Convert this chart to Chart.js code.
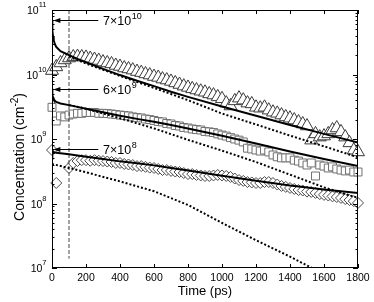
<!DOCTYPE html>
<html>
<head>
<meta charset="utf-8">
<script src="https://cdn.jsdelivr.net/npm/chart.js@4.4.1/dist/chart.umd.min.js"></script>
<style>
  html, body { margin: 0; padding: 0; background: #fff; }
  #wrap { width: 374px; height: 302px; }
</style>
</head>
<body>
<div id="wrap"><canvas id="concChart" width="374" height="302"></canvas></div>
<script>
// ---- data (time in ps, concentration in cm^-2) ----
const markerTimes = [0, 25, 50, 75, 100, 125, 150, 175, 200, 225, 250, 275, 300, 325, 350, 375,
  400, 425, 450, 475, 500, 525, 550, 575, 600, 625, 650, 675, 700, 725, 750, 775, 800, 825, 850,
  875, 900, 925, 950, 975, 1000, 1025, 1050, 1075, 1100, 1125, 1150, 1175, 1200, 1225, 1250, 1275,
  1300, 1325, 1350, 1375, 1400, 1425, 1450, 1475, 1500, 1525, 1550, 1575, 1600, 1625, 1650, 1675,
  1700, 1725, 1750, 1775, 1800];

const triangleData = [1.15e10, 1.31e10, 1.51e10, 1.68e10, 1.80e10, 1.87e10, 1.90e10, 1.87e10, 1.84e10,
  1.77e10, 1.71e10, 1.65e10, 1.56e10, 1.51e10, 1.46e10, 1.38e10, 1.33e10, 1.26e10, 1.22e10, 1.17e10,
  1.11e10, 1.07e10, 1.02e10, 9.8e9, 9.3e9, 9.0e9, 8.5e9, 8.2e9, 7.8e9, 7.4e9, 7.0e9, 6.6e9, 6.3e9,
  6.0e9, 5.75e9, 5.5e9, 5.3e9, 5.0e9, 4.8e9, 4.5e9, 4.2e9, 3.6e9, 3.25e9, 3.9e9, 4.3e9, 4.0e9, 3.6e9,
  3.5e9, 3.1e9, 3.0e9, 3.1e9, 2.8e9, 2.6e9, 2.5e9, 2.35e9, 2.2e9, 2.1e9, 1.97e9, 1.84e9, 1.71e9,
  1.59e9, 9.6e8, 1.2e9, 1.07e9, 1.11e9, 1.2e9, 1.38e9, 1.48e9, 1.29e9, 1.07e9, 8.7e8, 6.7e8, 6.3e8];

const squareData = [3.1e9, 1.9e9, 2.28e9, 2.2e9, 2.35e9, 2.44e9, 2.5e9, 2.5e9, 2.58e9, 2.58e9, 2.58e9,
  2.5e9, 2.5e9, 2.48e9, 2.44e9, 2.4e9, 2.35e9, 2.31e9, 2.28e9, 2.2e9, 2.15e9, 2.12e9, 2.04e9, 2.0e9,
  1.94e9, 1.87e9, 1.84e9, 1.74e9, 1.71e9, 1.62e9, 1.59e9, 1.51e9, 1.48e9, 1.43e9, 1.40e9, 1.38e9,
  1.31e9, 1.29e9, 1.26e9, 1.20e9, 1.15e9, 1.11e9, 1.05e9, 1.0e9, 9.6e8, 9.0e8, 7.2e8, 7.0e8, 6.75e8,
  6.5e8, 6.75e8, 6.3e8, 5.65e8, 5.3e8, 5.1e8, 5.1e8, 5.1e8, 4.7e8, 4.55e8, 4.25e8, 3.95e8, 4.25e8,
  2.67e8, 3.95e8, 3.8e8, 3.55e8, 3.7e8, 3.43e8, 3.3e8, 3.2e8, 3.3e8, 3.08e8, 3.08e8];

const diamondData = [6.75e8, 2.08e8, null, null, 3.55e8, 4.25e8, 4.55e8, 4.7e8, 4.7e8, 4.6e8, 4.7e8,
  4.6e8, 4.55e8, 4.48e8, 4.4e8, 4.25e8, 4.25e8, 4.1e8, 4.03e8, 3.95e8, 3.8e8, 3.8e8, 3.7e8, 3.6e8,
  3.55e8, 3.43e8, 3.3e8, 3.3e8, 3.2e8, 3.13e8, 3.08e8, 2.97e8, 2.86e8, 2.86e8, 2.77e8, 2.72e8, 2.67e8,
  2.67e8, 2.72e8, 2.77e8, 2.72e8, 2.67e8, 2.58e8, 2.44e8, 2.31e8, 2.24e8, 2.15e8, 2.12e8, 2.08e8,
  2.08e8, 2.15e8, 2.15e8, 2.08e8, 1.97e8, 1.87e8, 1.81e8, 1.74e8, 1.68e8, 1.62e8, 1.59e8, 1.53e8,
  1.51e8, 1.46e8, 1.40e8, 1.36e8, 1.33e8, 1.29e8, 1.26e8, 1.22e8, 1.17e8, 1.13e8, 1.09e8, 1.02e8];

// solid fit curves
const fitTimes = [0, 1, 3, 6, 10, 17, 25, 50, 100, 150, 200, 300, 400, 500, 600, 700, 800, 1000,
  1200, 1400, 1600, 1800];
const fitHigh = [7e10, 6e10, 4.8e10, 3.9e10, 3.4e10, 2.95e10, 2.67e10, 2.3e10, 2.0e10, 1.75e10, 1.55e10,
  1.22e10, 9.8e9, 8.0e9, 6.6e9, 5.4e9, 4.5e9, 3.2e9, 2.3e9, 1.65e9, 1.2e9, 8.8e8];
const fitMid = [6e9, 5.3e9, 4.8e9, 4.4e9, 4.15e9, 3.9e9, 3.75e9, 3.55e9, 3.35e9, 3.15e9, 2.95e9, 2.6e9,
  2.3e9, 2.05e9, 1.85e9, 1.65e9, 1.45e9, 1.12e9, 8.5e8, 6.4e8, 4.9e8, 3.8e8];
const fitLow = [7e8, 6.8e8, 6.6e8, 6.45e8, 6.3e8, 6.2e8, 6.1e8, 6.0e8, 5.8e8, 5.55e8, 5.3e8, 4.9e8,
  4.5e8, 4.2e8, 3.9e8, 3.55e8, 3.25e8, 2.7e8, 2.25e8, 1.9e8, 1.65e8, 1.45e8];

// dotted curves
const dotTimes = [100, 200, 400, 600, 800, 1000, 1200, 1400, 1600, 1800];
const dotHigh = [1.9e10, 1.48e10, 9.5e9, 6.2e9, 4.0e9, 2.48e9, 1.68e9, 1.13e9, 7.7e8, 5.2e8];
const dotMid = [3.35e9, 2.95e9, 2.1e9, 1.46e9, 9.7e8, 6.6e8, 4.4e8, 2.8e8, 1.78e8, 1.22e8];
const dotLowTimes = [0, 100, 200, 400, 600, 800, 1000, 1200, 1400, 1600, 1800];
const dotLow = [4.1e8, 3.55e8, 3.05e8, 2.2e8, 1.55e8, 9.5e7, 5.0e7, 2.7e7, 1.5e7, 8e6, 4e6];

// vertical marker at 100 ps
const cutTime = 100;
const cutRange = [1e11, 1.4e7];

// axes
const xTicks = [0, 200, 400, 600, 800, 1000, 1200, 1400, 1600, 1800];
const yTickExps = [7, 8, 9, 10, 11];

// initial-value annotations
const noteValues = [7e10, 6e9, 7e8];
const noteMantissa = ['7', '6', '7'];
const noteExps = ['10', '9', '8'];
const noteFromTime = 272;
const noteToTime = 8;
const noteTextTime = 300;

const FONT = '"Liberation Sans", Arial, Helvetica, sans-serif';

function pts(xs, ys) {
  return xs.map((t, i) => ({ x: t, y: ys[i] }));
}

// frame, inward ticks, superscript labels and arrows
const decorPlugin = {
  id: 'decor',
  afterDatasetsDraw(chart) {
    const { ctx, chartArea: a, scales: { x, y } } = chart;
    ctx.save();
    ctx.strokeStyle = '#000';
    ctx.lineWidth = 1;

    const seg = (x1, y1, x2, y2) => {
      ctx.beginPath(); ctx.moveTo(x1, y1); ctx.lineTo(x2, y2); ctx.stroke();
    };

    ctx.strokeRect(a.left + 0.5, a.top + 0.5, a.right - a.left - 1, a.bottom - a.top - 1);

    xTicks.forEach(v => {
      const px = Math.round(x.getPixelForValue(v)) + 0.5;
      seg(px, a.bottom, px, a.bottom - 4);
      seg(px, a.top, px, a.top + 4);
    });

    yTickExps.forEach((e, i) => {
      const py = Math.round(y.getPixelForValue(Math.pow(10, e))) + 0.5;
      seg(a.left, py, a.left + 5, py);
      seg(a.right, py, a.right - 5, py);
      if (i < yTickExps.length - 1) {
        for (let m = 2; m <= 9; m++) {
          const pm = Math.round(y.getPixelForValue(m * Math.pow(10, e))) + 0.5;
          seg(a.left, pm, a.left + 2.5, pm);
          seg(a.right, pm, a.right - 2.5, pm);
        }
      }
    });

    // y tick labels 10^n
    ctx.fillStyle = '#000';
    ctx.textBaseline = 'middle';
    ctx.textAlign = 'right';
    const labelRight = 46.5;
    yTickExps.forEach(e => {
      const py = y.getPixelForValue(Math.pow(10, e));
      ctx.font = '7.5px ' + FONT;
      const ew = ctx.measureText(String(e)).width;
      ctx.fillText(String(e), labelRight, py - 5);
      ctx.font = '10.5px ' + FONT;
      ctx.fillText('10', labelRight - ew, py + 1.5);
    });

    // y axis title with superscript
    ctx.save();
    ctx.translate(24, 157);
    ctx.rotate(-Math.PI / 2);
    ctx.textAlign = 'left';
    ctx.textBaseline = 'alphabetic';
    const mainFont = '14px ' + FONT, supFont = '10px ' + FONT;
    ctx.font = mainFont;
    const w1 = ctx.measureText('Concentration (cm').width;
    const w3 = ctx.measureText(')').width;
    ctx.font = supFont;
    const w2 = ctx.measureText('-2').width;
    let cx = -(w1 + w2 + w3) / 2;
    ctx.font = mainFont;
    ctx.fillText('Concentration (cm', cx, 0);
    cx += w1;
    ctx.font = supFont;
    ctx.fillText('-2', cx, -6);
    cx += w2;
    ctx.font = mainFont;
    ctx.fillText(')', cx, 0);
    ctx.restore();

    // arrows pointing at the initial values
    const x0 = x.getPixelForValue(noteFromTime);
    const x1 = x.getPixelForValue(noteToTime);
    const xt = x.getPixelForValue(noteTextTime);
    noteValues.forEach((v, i) => {
      const py = Math.round(y.getPixelForValue(v)) + 0.5;
      seg(x0, py, x1 + 5, py);
      ctx.beginPath();
      ctx.moveTo(x1, py);
      ctx.lineTo(x1 + 7, py - 2.5);
      ctx.lineTo(x1 + 7, py + 2.5);
      ctx.closePath();
      ctx.fill();
      ctx.textAlign = 'left';
      ctx.textBaseline = 'middle';
      ctx.font = '12.5px ' + FONT;
      const base = noteMantissa[i] + '\u00d710';
      ctx.fillText(base, xt, py + 1.5);
      const bw = ctx.measureText(base).width;
      ctx.font = '9px ' + FONT;
      ctx.fillText(noteExps[i], xt + bw + 0.5, py - 4);
    });

    ctx.restore();
  }
};

const lineStyle = { showLine: true, pointRadius: 0, fill: false, tension: 0, borderColor: '#000' };
const markerStyle = { showLine: false, pointBackgroundColor: '#fff', pointBorderWidth: 1, clip: false };

new Chart(document.getElementById('concChart'), {
  type: 'scatter',
  data: {
    datasets: [
      { ...lineStyle, data: pts(fitTimes, fitHigh), borderWidth: 2 },
      { ...lineStyle, data: pts(fitTimes, fitMid), borderWidth: 2 },
      { ...lineStyle, data: pts(fitTimes, fitLow), borderWidth: 2 },
      { ...lineStyle, data: pts(dotTimes, dotHigh), borderWidth: 2, borderDash: [2, 2] },
      { ...lineStyle, data: pts(dotTimes, dotMid), borderWidth: 2, borderDash: [2, 2] },
      { ...lineStyle, data: pts(dotLowTimes, dotLow), borderWidth: 2, borderDash: [2, 2] },
      { ...lineStyle, data: cutRange.map(v => ({ x: cutTime, y: v })), borderWidth: 1,
        borderColor: '#444', borderDash: [4, 2] },
      { ...markerStyle, data: pts(markerTimes, triangleData), pointStyle: 'triangle',
        pointRadius: 7.5, pointBorderColor: '#3a3a3a' },
      { ...markerStyle, data: pts(markerTimes, squareData), pointStyle: 'rect',
        pointRadius: 5.6, pointBorderColor: '#707070' },
      { ...markerStyle, data: pts(markerTimes, diamondData), pointStyle: 'rectRot',
        pointRadius: 5.5, pointBorderColor: '#4a4a4a' }
    ]
  },
  options: {
    responsive: false,
    devicePixelRatio: 1,
    animation: false,
    events: [],
    layout: { padding: { left: 0, right: 16, top: 10, bottom: 0 } },
    plugins: { legend: { display: false }, tooltip: { enabled: false } },
    scales: {
      x: {
        type: 'linear', min: 0, max: 1800,
        grid: { display: false, drawTicks: false },
        border: { display: false },
        ticks: { stepSize: 200, autoSkip: false, maxRotation: 0, padding: 4, color: '#000',
          font: { size: 10.5, family: FONT }, callback: v => String(v) },
        title: { display: true, text: 'Time (ps)', color: '#000',
          font: { size: 13, family: FONT }, padding: { top: 0, bottom: 3 } },
        afterFit: s => { s.height = 34; }
      },
      y: {
        type: 'logarithmic', min: 1e7, max: 1e11,
        grid: { display: false, drawTicks: false },
        border: { display: false },
        ticks: { display: false },
        afterFit: s => { s.width = 52; }
      }
    }
  },
  plugins: [decorPlugin]
});
</script>
</body>
</html>
